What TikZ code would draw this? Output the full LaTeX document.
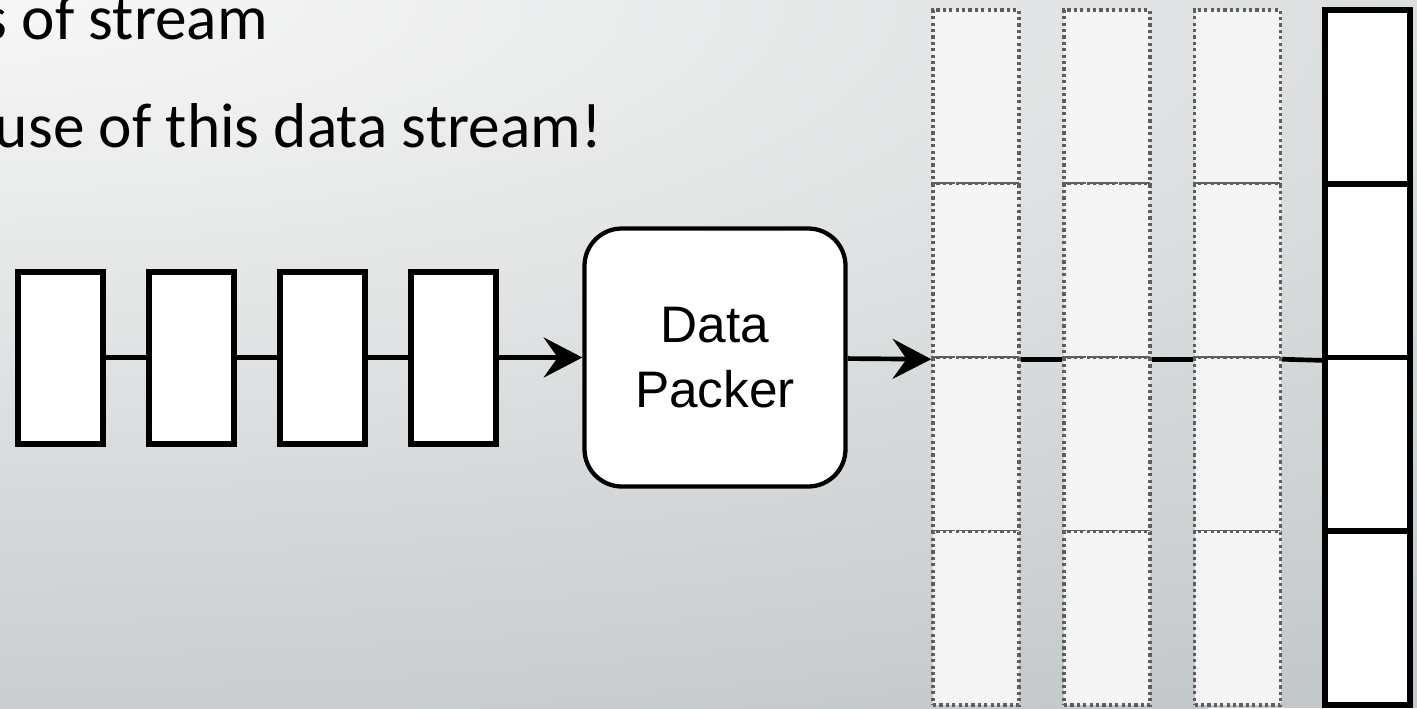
\documentclass[tikz,border=0pt]{standalone}
\usepackage{fontspec}
\newfontfamily\slidefont{Carlito}
\newfontfamily\arialfont{Liberation Sans}
\usetikzlibrary{arrows.meta}
\definecolor{bgin}{HTML}{F7F7F7}
\definecolor{bgout}{HTML}{C3C8CA}
\definecolor{cellfill}{HTML}{F5F5F5}
\definecolor{dotgray}{HTML}{5E5E5E}
\begin{document}
\begin{tikzpicture}[x=0.75pt,y=-0.75pt,
  blk/.style={draw=black, line width=4.5pt, fill=white, minimum width=63.75pt, minimum height=129pt, inner sep=0pt},
  packer/.style={draw=black, line width=3.2pt, fill=white, rounded corners=28pt, minimum width=195.75pt, minimum height=193.5pt, inner sep=0pt, align=center, font=\arialfont\fontsize{38.5}{48.75}\selectfont},
  dcell/.style={draw=dotgray, fill=cellfill, line width=2.6pt, dash pattern=on 2.4pt off 2.4pt, minimum width=64.5pt, minimum height=130.3pt, inner sep=0pt},
  scell/.style={draw=black, fill=white, line width=4.3pt, minimum width=63.75pt, minimum height=130.3pt, inner sep=0pt},
  conn/.style={line width=3.5pt, draw=black},
  arr/.style={conn, -{Stealth[length=29pt,width=30pt,inset=10.5pt]}},
  slidetext/.style={inner sep=0pt, anchor=base east, font=\slidefont\fontsize{47.5}{56}\selectfont}
]
\useasboundingbox (0,0) rectangle (1417,708);
\begin{scope}
  \clip (0,0) rectangle (1417,708);
  \fill[bgout] (0,0) rectangle (1417,708);
  \shade[inner color=bgin, outer color=bgout] (0,0) ellipse [x radius=1950pt, y radius=600pt];
  \node[slidetext] (t1) at (268,39) {s of stream};
  \node[slidetext] (t2) at (602,147) {use of this data stream!};
\end{scope}

% input stream blocks
\node[blk] (b1) at (60.5,357.5) {};
\node[blk] (b2) at (191.5,357.5) {};
\node[blk] (b3) at (322.5,357.5) {};
\node[blk] (b4) at (453,357.5) {};

% data packer
\node[packer] (dp) at (715,357.5) {Data\\Packer};

% dotted columns
\foreach \c/\x in {1/976, 2/1107, 3/1237.5}{
  \foreach \r/\y in {1/96.875, 2/270.625, 3/444.375, 4/618.125}{
    \node[dcell] (c\c\r) at (\x,\y) {};
  }
}
% solid column
\foreach \r/\y in {1/96.875, 2/270.625, 3/444.375, 4/618.125}{
  \node[scell] (s\r) at (1367.5,\y) {};
}

% connectors
\draw[conn] (b1) -- (b2);
\draw[conn] (b2) -- (b3);
\draw[conn] (b3) -- (b4);
\draw[arr] (b4) -- (dp);
\draw[arr] (dp) -- (c12.south west);
\draw[conn] (c12.south east) -- (c22.south west);
\draw[conn] (c22.south east) -- (c32.south west);
\draw[conn] (c32.south east) -- (s2.south west);
\end{tikzpicture}
\end{document}
